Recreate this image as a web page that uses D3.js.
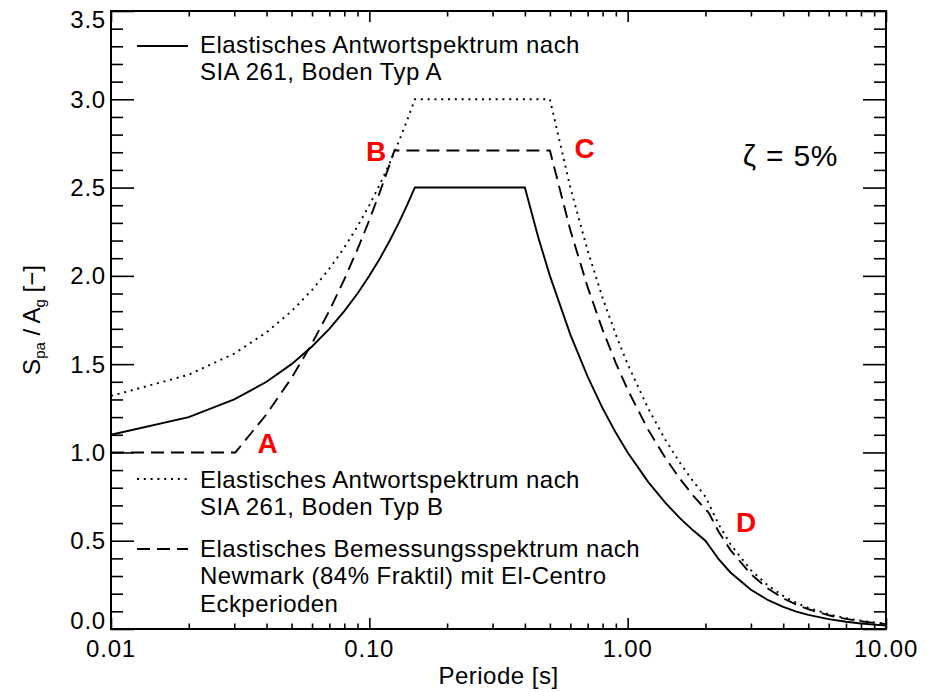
<!DOCTYPE html>
<html>
<head>
<meta charset="utf-8">
<script src="https://cdn.jsdelivr.net/npm/d3@7"></script>
<style>
  html, body { margin: 0; padding: 0; background: #fff; }
  svg { display: block; font-family: "Liberation Sans", Arial, Helvetica, sans-serif; }
</style>
</head>
<body>
<svg id="chart" width="939" height="692"></svg>
<script>
// Elastic response spectra, normalised spectral acceleration S_pa / A_g over period T [s]

// SIA 261, soil class A (S = 1.0, TB = 0.15 s, TC = 0.4 s, TD = 2.0 s)
const periodsA = [0.01, 0.02, 0.03, 0.04, 0.05, 0.06, 0.07, 0.08, 0.09, 0.10, 0.11, 0.12, 0.13, 0.14, 0.15,
  0.40, 0.45, 0.50, 0.60, 0.70, 0.80, 0.90, 1.00, 1.20, 1.40, 1.60, 1.80, 2.00,
  2.25, 2.50, 3.00, 3.50, 4.00, 4.50, 5.00, 6.00, 7.00, 8.00, 9.00, 10.00];
const sia261TypA = [1.10, 1.20, 1.30, 1.40, 1.50, 1.60, 1.70, 1.80, 1.90, 2.00, 2.10, 2.20, 2.30, 2.40, 2.50,
  2.50, 2.222, 2.00, 1.667, 1.429, 1.25, 1.111, 1.00, 0.833, 0.714, 0.625, 0.556, 0.50,
  0.395, 0.32, 0.222, 0.163, 0.125, 0.0988, 0.08, 0.0556, 0.0408, 0.0313, 0.0247, 0.02];

// SIA 261, soil class B (S = 1.2, TB = 0.15 s, TC = 0.5 s, TD = 2.0 s)
const periodsB = [0.01, 0.02, 0.03, 0.04, 0.05, 0.06, 0.07, 0.08, 0.09, 0.10, 0.11, 0.12, 0.13, 0.14, 0.15,
  0.50, 0.60, 0.70, 0.80, 0.90, 1.00, 1.20, 1.40, 1.60, 1.80, 2.00,
  2.25, 2.50, 3.00, 3.50, 4.00, 4.50, 5.00, 6.00, 7.00, 8.00, 9.00, 10.00];
const sia261TypB = [1.32, 1.44, 1.56, 1.68, 1.80, 1.92, 2.04, 2.16, 2.28, 2.40, 2.52, 2.64, 2.76, 2.88, 3.00,
  3.00, 2.50, 2.143, 1.875, 1.667, 1.50, 1.25, 1.071, 0.9375, 0.833, 0.75,
  0.593, 0.48, 0.333, 0.245, 0.1875, 0.148, 0.12, 0.0833, 0.0612, 0.0469, 0.037, 0.03];

// Newmark design spectrum (84% fractile), El-Centro corner periods A, B, C, D
const periodsN = [0.01, 0.02, 0.0303, 0.04, 0.05, 0.06, 0.07, 0.08, 0.09, 0.10, 0.11, 0.12, 0.125,
  0.50, 0.60, 0.70, 0.80, 0.90, 1.00, 1.20, 1.40, 1.60, 1.80, 2.00, 2.06,
  2.25, 2.50, 3.00, 3.50, 4.00, 4.50, 5.00, 6.00, 7.00, 8.00, 9.00, 10.00];
const newmarkElCentro = [1.00, 1.00, 1.00, 1.216, 1.422, 1.617, 1.802, 1.980, 2.151, 2.316, 2.477, 2.633, 2.71,
  2.71, 2.258, 1.936, 1.694, 1.506, 1.355, 1.129, 0.968, 0.847, 0.753, 0.678, 0.658,
  0.551, 0.447, 0.310, 0.228, 0.174, 0.138, 0.112, 0.0776, 0.0570, 0.0436, 0.0345, 0.0279];

// Axis ticks
const xMajorTicks = [0.01, 0.1, 1, 10];
const xTickLabels = ["0.01", "0.10", "1.00", "10.00"];
const yMajorTicks = [0.0, 0.5, 1.0, 1.5, 2.0, 2.5, 3.0, 3.5];
const yTickLabels = ["0.0", "0.5", "1.0", "1.5", "2.0", "2.5", "3.0", "3.5"];

// Corner-period annotations (text anchor in data units)
const cornerLabels = ["A", "B", "C", "D"];
const cornerLabelT = [0.0404, 0.1062, 0.681, 2.873];
const cornerLabelS = [0.997, 2.653, 2.667, 0.552];

const legendLines = [
  ["Elastisches Antwortspektrum nach", "SIA 261, Boden Typ A"],
  ["Elastisches Antwortspektrum nach", "SIA 261, Boden Typ B"],
  ["Elastisches Bemessungsspektrum nach", "Newmark (84% Fraktil) mit El-Centro", "Eckperioden"]
];

const plot = { left: 111, right: 886, top: 11, bottom: 629 };
const svg = d3.select("#chart");

const x = d3.scaleLog().domain([0.01, 10]).range([plot.left, plot.right]);
const y = d3.scaleLinear().domain([0, 3.5]).range([plot.bottom, plot.top]);

const FONT = 24;
const ink = "#000";

// Minor ticks: 2..9 per decade on x, 0.1 steps on y
const xMinorTicks = [];
[0.01, 0.1, 1].forEach(d => { for (let k = 2; k <= 9; k++) xMinorTicks.push(+(d * k).toPrecision(3)); });
const yMinorTicks = d3.range(0, 36).map(i => i / 10).filter(v => Math.abs(v * 2 - Math.round(v * 2)) > 1e-6);

// Axes drawn with d3.axis on all four sides, ticks pointing inward
const tickG = svg.append("g");
function drawAxis(axis, transform) {
  const g = tickG.append("g").attr("transform", transform).call(axis);
  g.select(".domain").remove();
  g.selectAll("text").remove();
  g.selectAll("line").attr("stroke", ink).attr("stroke-width", 1.6);
}
const XMAJ = 11, XMIN = 5.5, YMAJ = 23, YMIN = 12;
drawAxis(d3.axisBottom(x).tickValues(xMajorTicks).tickSizeInner(-XMAJ).tickSizeOuter(0), `translate(0,${plot.bottom})`);
drawAxis(d3.axisBottom(x).tickValues(xMinorTicks).tickSizeInner(-XMIN).tickSizeOuter(0), `translate(0,${plot.bottom})`);
drawAxis(d3.axisTop(x).tickValues(xMajorTicks).tickSizeInner(-XMAJ).tickSizeOuter(0), `translate(0,${plot.top})`);
drawAxis(d3.axisTop(x).tickValues(xMinorTicks).tickSizeInner(-XMIN).tickSizeOuter(0), `translate(0,${plot.top})`);
drawAxis(d3.axisLeft(y).tickValues(yMajorTicks).tickSizeInner(-YMAJ).tickSizeOuter(0), `translate(${plot.left},0)`);
drawAxis(d3.axisLeft(y).tickValues(yMinorTicks).tickSizeInner(-YMIN).tickSizeOuter(0), `translate(${plot.left},0)`);
drawAxis(d3.axisRight(y).tickValues(yMajorTicks).tickSizeInner(-YMAJ).tickSizeOuter(0), `translate(${plot.right},0)`);
drawAxis(d3.axisRight(y).tickValues(yMinorTicks).tickSizeInner(-YMIN).tickSizeOuter(0), `translate(${plot.right},0)`);

// Plot frame
svg.append("rect")
  .attr("x", plot.left).attr("y", plot.top)
  .attr("width", plot.right - plot.left).attr("height", plot.bottom - plot.top)
  .attr("fill", "none").attr("stroke", ink).attr("stroke-width", 2);

// Tick labels
svg.append("g").selectAll("text").data(xMajorTicks).join("text")
  .attr("x", d => x(d)).attr("y", 657)
  .attr("text-anchor", "middle").attr("font-size", FONT).attr("fill", ink)
  .attr("letter-spacing", 0.8)
  .text((d, i) => xTickLabels[i]);

const capH = FONT * 0.716;
svg.append("g").selectAll("text").data(yMajorTicks).join("text")
  .attr("x", 106)
  .attr("y", d => Math.max(plot.top + capH, Math.min(plot.bottom, y(d) + capH / 2)))
  .attr("text-anchor", "end").attr("font-size", FONT).attr("fill", ink)
  .attr("letter-spacing", 0.8)
  .text((d, i) => yTickLabels[i]);

// Axis titles
svg.append("text")
  .attr("x", (plot.left + plot.right) / 2).attr("y", 684)
  .attr("text-anchor", "middle").attr("font-size", FONT).attr("fill", ink)
  .attr("letter-spacing", 0.5)
  .text("Periode [s]");

const yTitle = svg.append("text")
  .attr("transform", `translate(40,${(plot.top + plot.bottom) / 2}) rotate(-90)`)
  .attr("text-anchor", "middle").attr("font-size", FONT).attr("fill", ink);
yTitle.append("tspan").text("S");
yTitle.append("tspan").attr("font-size", 15).attr("dy", 5).text("pa");
yTitle.append("tspan").attr("dy", -5).text(" / A");
yTitle.append("tspan").attr("font-size", 15).attr("dy", 5).text("g");
yTitle.append("tspan").attr("dy", -5).text(" [\u2212]");

// Spectra
const line = d3.line().x(d => x(d[0])).y(d => y(d[1]));
const series = [
  { T: periodsA, S: sia261TypA, dash: null },
  { T: periodsB, S: sia261TypB, dash: "2,4.8" },
  { T: periodsN, S: newmarkElCentro, dash: "13,7" }
];
const curves = svg.append("g");
series.forEach(s => {
  curves.append("path")
    .attr("d", line(s.T.map((t, i) => [t, s.S[i]])))
    .attr("fill", "none").attr("stroke", ink).attr("stroke-width", 1.9)
    .attr("stroke-dasharray", s.dash);
});

// Legend blocks
const legendPos = [
  { sy: 46, base: 53 },
  { sy: 479, base: 488 },
  { sy: 549, base: 557 }
];
const legend = svg.append("g");
legendLines.forEach((lines, i) => {
  const p = legendPos[i];
  legend.append("line")
    .attr("x1", 137).attr("x2", 188).attr("y1", p.sy).attr("y2", p.sy)
    .attr("stroke", ink).attr("stroke-width", 1.9)
    .attr("stroke-dasharray", series[i].dash);
  lines.forEach((txt, j) => {
    legend.append("text")
      .attr("x", 200).attr("y", p.base + j * 27.3)
      .attr("font-size", FONT).attr("fill", ink)
      .attr("letter-spacing", 0.45)
      .text(txt);
  });
});

// Corner period labels
svg.append("g").selectAll("text").data(cornerLabels).join("text")
  .attr("x", (d, i) => x(cornerLabelT[i]))
  .attr("y", (d, i) => y(cornerLabelS[i]))
  .attr("text-anchor", "middle").attr("font-size", 28).attr("font-weight", "bold")
  .attr("fill", "#ff0000")
  .text(d => d);

// Damping ratio note
svg.append("text")
  .attr("x", x(2.79)).attr("y", y(2.624))
  .attr("font-size", 30).attr("fill", ink)
  .attr("letter-spacing", 0.8)
  .text("\u03b6 = 5%");
</script>
</body>
</html>
